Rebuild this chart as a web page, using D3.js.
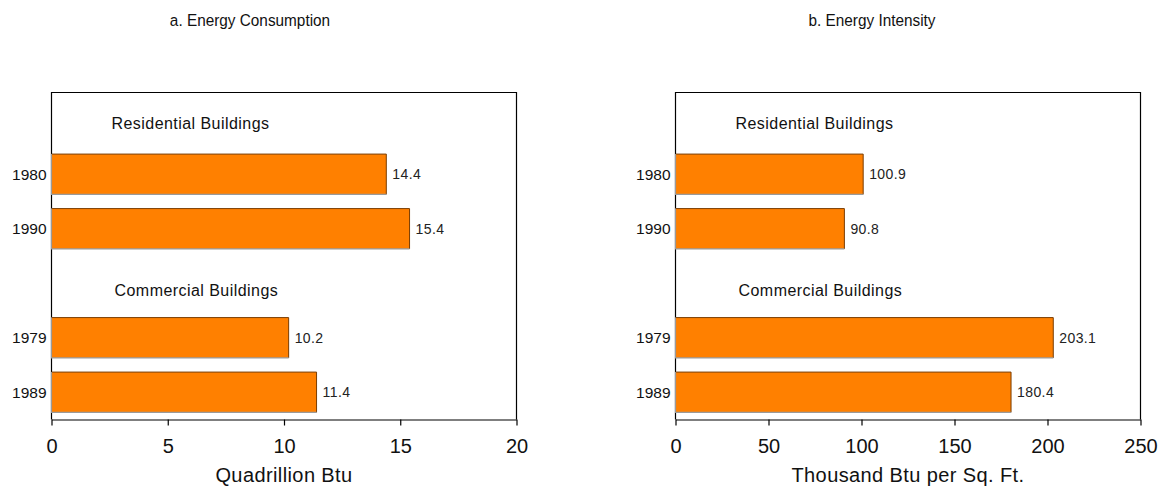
<!DOCTYPE html>
<html>
<head>
<meta charset="utf-8">
<script src="https://cdn.jsdelivr.net/npm/d3@7"></script>
<style>
  html, body { margin: 0; padding: 0; background: #fff; }
  svg { display: block; }
  text { font-family: "Liberation Sans", Arial, sans-serif; }
</style>
</head>
<body>
<svg id="chart" width="1163" height="488"></svg>
<script>
// ---- data ----
const panelTitles = ["a. Energy Consumption", "b. Energy Intensity"];
const axisTitles = ["Quadrillion Btu", "Thousand Btu per Sq. Ft."];
const groupLabels = ["Residential Buildings", "Commercial Buildings"];
const years = ["1980", "1990", "1979", "1989"];
const consumption = [14.4, 15.4, 10.2, 11.4];
const intensity = [100.9, 90.8, 203.1, 180.4];
const consumptionTicks = [0, 5, 10, 15, 20];
const intensityTicks = [0, 50, 100, 150, 200, 250];

const panels = [
  { values: consumption, ticks: consumptionTicks, max: 20, x0: 51.5, x1: 516.5, title: panelTitles[0], titleX: 250, axisTitle: axisTitles[0] },
  { values: intensity, ticks: intensityTicks, max: 250, x0: 675.5, x1: 1140.5, title: panelTitles[1], titleX: 872, axisTitle: axisTitles[1] }
];

const rowKeys = ["g0", years[0], years[1], "g1", years[2], years[3]];
const plotTop = 92.5, plotBottom = 419.5;

const svg = d3.select("#chart");

const y = d3.scaleBand().domain(rowKeys).range([plotTop, plotBottom]).paddingInner(0.26).paddingOuter(0.13);

panels.forEach((p) => {
  const x = d3.scaleLinear().domain([0, p.max]).range([p.x0, p.x1]);
  const g = svg.append("g");

  // title
  g.append("text").attr("x", p.titleX).attr("y", 26).attr("text-anchor", "middle")
    .attr("fill", "#111")
    .attr("transform", `translate(${p.titleX},0) scale(0.93,1) translate(${-p.titleX},0)`)
    .style("font-size", "16.5px")
    .text(p.title);

  // frame (left, top, right)
  g.append("path")
    .attr("d", `M${p.x0},${plotBottom}V${plotTop}H${p.x1}V${plotBottom}`)
    .attr("fill", "none").attr("stroke", "#000").attr("stroke-width", 1.2);

  // bottom axis
  const axis = d3.axisBottom(x).tickValues(p.ticks).tickSize(6).tickPadding(13).tickSizeOuter(0);
  const ax = g.append("g").attr("transform", `translate(0,${plotBottom})`).call(axis);
  ax.select(".domain").attr("stroke", "#000").attr("stroke-width", 1.2);
  ax.selectAll(".tick line").attr("stroke", "#000").attr("stroke-width", 1.2);
  ax.selectAll(".tick text").attr("font-size", 20).attr("fill", "#111")
    .style("font-family", '"Liberation Sans", Arial, sans-serif');

  // axis title
  g.append("text").attr("x", (p.x0 + p.x1) / 2).attr("y", 482).attr("text-anchor", "middle")
    .attr("font-size", 20).attr("fill", "#111").style("letter-spacing", "0.4px")
    .text(p.axisTitle);

  // group labels
  groupLabels.forEach((lab, i) => {
    g.append("text")
      .attr("x", p.x0 + (i === 0 ? 60 : 63))
      .attr("y", y("g" + i) + y.bandwidth() / 2 + (i === 0 ? 3.5 : 7.5))
      .attr("dy", "0.35em")
      .attr("font-size", 16).attr("fill", "#111").style("letter-spacing", "0.45px")
      .text(lab);
  });

  // bars
  years.forEach((yr, i) => {
    const v = p.values[i];
    const by = y(yr), bh = y.bandwidth();
    const bx0 = x(0), bx1 = x(v);
    g.append("rect").attr("x", bx0).attr("y", by).attr("width", bx1 - bx0).attr("height", bh)
      .attr("fill", "#FF8000");
    g.append("path").attr("d", `M${bx0},${by}H${bx1}V${by + bh}`)
      .attr("fill", "none").attr("stroke", "#7a3c00").attr("stroke-width", 1);
    g.append("path").attr("d", `M${bx0},${by}V${by + bh}H${bx1}`)
      .attr("fill", "none").attr("stroke", "#9a9a9a").attr("stroke-width", 1.2);

    g.append("text").attr("x", bx1 + 6).attr("y", by + bh / 2).attr("dy", "0.36em")
      .attr("font-size", 14).attr("fill", "#222").style("letter-spacing", "0.4px")
      .text(v.toFixed(1));

    g.append("text").attr("x", p.x0 - 5).attr("y", by + bh / 2).attr("dy", "0.36em")
      .attr("text-anchor", "end").attr("font-size", 15.5).attr("fill", "#111")
      .text(yr);
  });
});
</script>
</body>
</html>
